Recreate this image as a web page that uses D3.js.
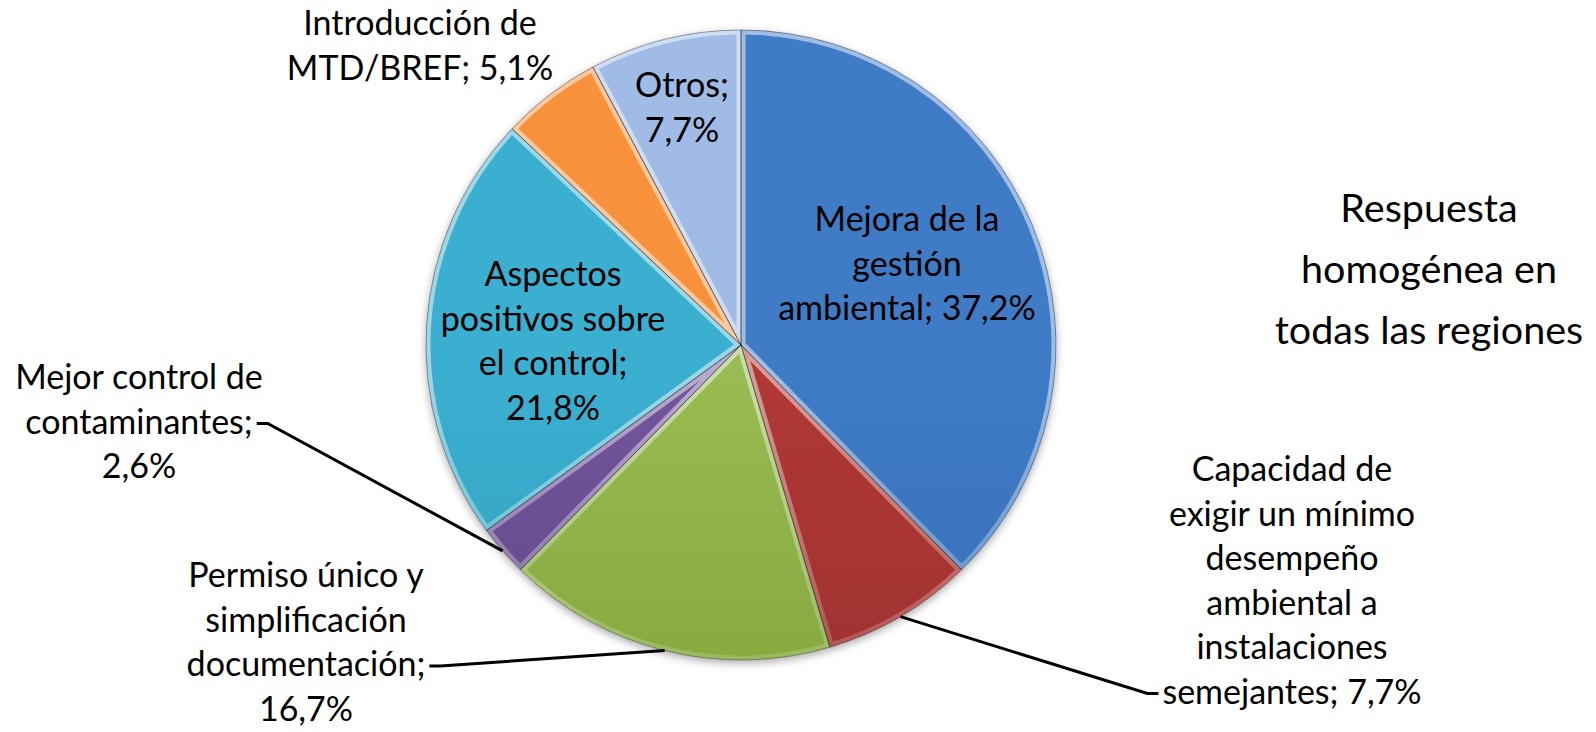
<!DOCTYPE html>
<html>
<head>
<meta charset="utf-8">
<script src="https://cdn.jsdelivr.net/npm/d3@7"></script>
<style>
  body { margin: 0; background: #fff; }
  text { font-family: Lato, "Open Sans", sans-serif; fill: #000; }
</style>
</head>
<body>
<script>
const width = 1596;
const height = 732;

// data, clockwise from 12 o'clock
const categories = ["Mejora de la gestión ambiental",
  "Capacidad de exigir un mínimo desempeño ambiental a instalaciones semejantes",
  "Permiso único y simplificación documentación",
  "Mejor control de contaminantes",
  "Aspectos positivos sobre el control",
  "Introducción de MTD/BREF",
  "Otros"];
const values = [37.2, 7.7, 16.7, 2.6, 21.8, 5.1, 7.7];
const labelLines = [
  ["Mejora de la", "gestión", "ambiental; {v}"],
  ["Capacidad de", "exigir un mínimo", "desempeño", "ambiental a", "instalaciones", "semejantes; {v}"],
  ["Permiso único y", "simplificación", "documentación;", "{v}"],
  ["Mejor control de", "contaminantes;", "{v}"],
  ["Aspectos", "positivos sobre", "el control;", "{v}"],
  ["Introducción de", "MTD/BREF; {v}"],
  ["Otros;", "{v}"]
];
const titleLines = ["Respuesta", "homogénea en", "todas las regiones"];

// colours (top, middle, bottom of the shading)
const colors = [
  ["#3f7bc6", "#376fb6", "#2d5c98"],
  ["#b03835", "#a0322f", "#8a2a27"],
  ["#98bb52", "#86a83f", "#739136"],
  ["#71549b", "#654a8c", "#573f7a"],
  ["#3bafd0", "#31a0bf", "#2a88a3"],
  ["#f8913a", "#ef872b", "#d9761f"],
  ["#9fbbe6", "#90abd9", "#8097c4"]
];

// layout
const cx = 741, cy = 345, r = 315;
const fontSize = 34, lineH = 44.5;
// first baseline of each label; leader: which line it hangs from and on which side
const labelPos = [
  {x: 907, y: 231},
  {x: 1292, y: 481, leader: {line: 5, side: "left"}},
  {x: 306, y: 587, leader: {line: 2, side: "right"}},
  {x: 139, y: 389, leader: {line: 1, side: "right"}},
  {x: 553, y: 286},
  {x: 420, y: 35},
  {x: 682, y: 97}
];

const fmt = v => d3.format(".1f")(v).replace(".", ",") + "%";

const svg = d3.select("body")
  .append("svg")
  .attr("width", width)
  .attr("height", height);

const defs = svg.append("defs");

colors.forEach(function(c, i) {
  const g = defs.append("linearGradient")
    .attr("id", "grad" + i)
    .attr("gradientUnits", "userSpaceOnUse")
    .attr("x1", 0).attr("y1", cy - r)
    .attr("x2", 0).attr("y2", cy + r);
  g.append("stop").attr("offset", 0).attr("stop-color", c[0]);
  g.append("stop").attr("offset", 0.5).attr("stop-color", c[1]);
  g.append("stop").attr("offset", 1).attr("stop-color", c[2]);
});

const rim = defs.append("linearGradient")
  .attr("id", "rim")
  .attr("gradientUnits", "userSpaceOnUse")
  .attr("x1", 0).attr("y1", cy - r)
  .attr("x2", 0).attr("y2", cy + r);
rim.append("stop").attr("offset", 0).attr("stop-color", "#fff").attr("stop-opacity", 0.5);
rim.append("stop").attr("offset", 0.5).attr("stop-color", "#fff").attr("stop-opacity", 0.12);
rim.append("stop").attr("offset", 1).attr("stop-color", "#000").attr("stop-opacity", 0.22);

const shadow = defs.append("filter").attr("id", "shadow")
  .attr("x", "-10%").attr("y", "-10%").attr("width", "120%").attr("height", "125%");
shadow.append("feDropShadow")
  .attr("dx", 0).attr("dy", 3).attr("stdDeviation", 4)
  .attr("flood-color", "#000").attr("flood-opacity", 0.35);

const pie = d3.pie().sort(null).value(d => d);
const arcs = pie(values);
const arc = d3.arc().innerRadius(0).outerRadius(r);

const g = svg.append("g").attr("transform", `translate(${cx},${cy})`);

arcs.forEach(function(d, i) {
  defs.append("clipPath").attr("id", "clip" + i)
    .append("path").attr("d", arc(d));
});

g.append("g").attr("filter", "url(#shadow)")
  .selectAll("path")
  .data(arcs)
  .enter()
  .append("path")
  .attr("d", arc)
  .attr("fill", (d, i) => `url(#grad${i})`);

// bevel-ish rim inside each slice
g.append("g")
  .selectAll("path")
  .data(arcs)
  .enter()
  .append("path")
  .attr("d", arc)
  .attr("fill", "none")
  .attr("stroke", "url(#rim)")
  .attr("stroke-width", 9)
  .attr("clip-path", (d, i) => `url(#clip${i})`);

g.append("g")
  .selectAll("path")
  .data(arcs)
  .enter()
  .append("path")
  .attr("d", arc)
  .attr("fill", "none")
  .attr("stroke", "rgba(0,0,0,0.35)")
  .attr("stroke-width", 1);

// labels
const labels = [];
arcs.forEach(function(d, i) {
  const p = labelPos[i];
  const t = svg.append("text")
    .attr("text-anchor", "middle")
    .style("font-size", fontSize + "px");
  const spans = labelLines[i].map(function(line, k) {
    return t.append("tspan")
      .attr("x", p.x)
      .attr("y", p.y + k * lineH)
      .text(line.replace("{v}", fmt(values[i])));
  });
  labels.push(spans);
});

// leader lines: from the label line out to the arc mid point
arcs.forEach(function(d, i) {
  const p = labelPos[i];
  if (!p.leader) return;
  const span = labels[i][p.leader.line].node();
  const w = span.getComputedTextLength();
  const ly = p.y + p.leader.line * lineH - 10;
  const dir = p.leader.side === "right" ? 1 : -1;
  const x0 = p.x + dir * (w / 2 + 4);
  const x1 = x0 + dir * 11;
  const a = (d.startAngle + d.endAngle) / 2;
  const pt = [cx + r * Math.sin(a), cy - r * Math.cos(a)];
  svg.append("path")
    .attr("d", d3.line()([[x0, ly], [x1, ly], pt]))
    .attr("fill", "none")
    .attr("stroke", "#000")
    .attr("stroke-width", 3);
});

// side note
const title = svg.append("text")
  .attr("text-anchor", "middle")
  .style("font-size", "39.5px");
titleLines.forEach(function(line, k) {
  title.append("tspan")
    .attr("x", 1429)
    .attr("y", 222 + k * 61)
    .text(line);
});
</script>
</body>
</html>
